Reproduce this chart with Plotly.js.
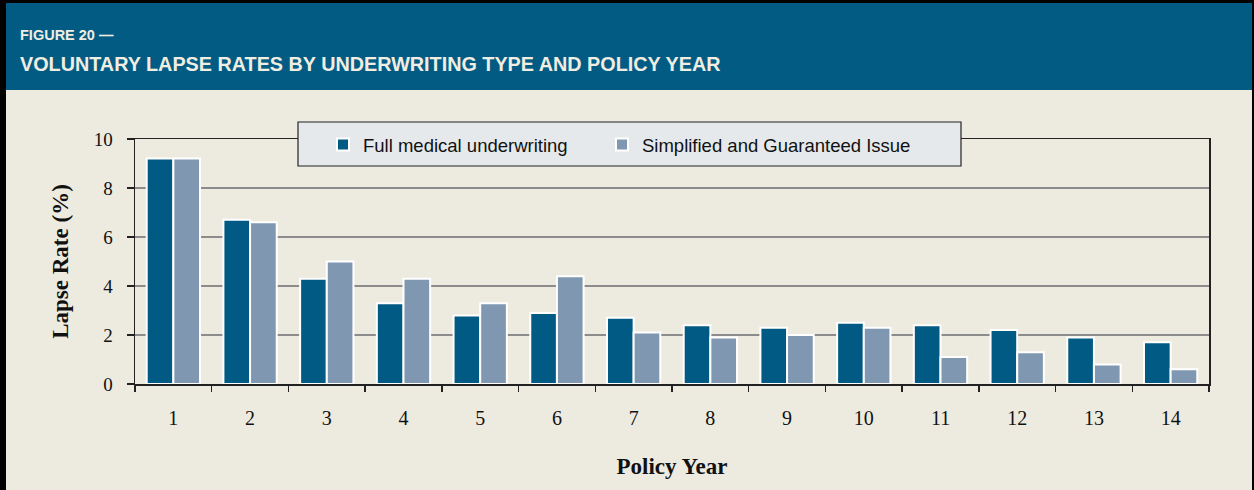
<!DOCTYPE html>
<html>
<head>
<meta charset="utf-8">
<script src="https://cdn.plot.ly/plotly-3.0.1.min.js"></script>
<style>
html,body{margin:0;padding:0;background:#000;}
#chart{width:1254px;height:490px;}
</style>
</head>
<body>
<div id="chart"></div>
<script>
// ---- data ----
const policyYears = ["1","2","3","4","5","6","7","8","9","10","11","12","13","14"];
const fullMedical = [9.2, 6.7, 4.3, 3.3, 2.8, 2.9, 2.7, 2.4, 2.3, 2.5, 2.4, 2.2, 1.9, 1.7];
const simplifiedGI = [9.2, 6.6, 5.0, 4.3, 3.3, 4.4, 2.1, 1.9, 2.0, 2.3, 1.1, 1.3, 0.8, 0.6];
const seriesNames = ["Full medical underwriting", "Simplified and Guaranteed Issue"];
const yTicks = [0, 2, 4, 6, 8, 10];
const figureLabel = "FIGURE 20 \u2014";
const chartTitle = "VOLUNTARY LAPSE RATES BY UNDERWRITING TYPE AND POLICY YEAR";

// ---- layout helpers (pixel -> paper) ----
const W = 1254, H = 490, ML = 135, MR = 45, MT = 139, MB = 106;
const PW = W - ML - MR, PH = H - MT - MB;
const px = x => (x - ML) / PW;
const py = y => (H - MB - y) / PH;

const sans = "Liberation Sans, Arial, sans-serif";
const serif = "Liberation Serif, Times New Roman, serif";

const traces = [
  {type: "bar", name: seriesNames[0], x: policyYears, y: fullMedical, legend: "legend",
   marker: {color: "#005a83", line: {color: "#ffffff", width: 2}}, hoverinfo: "y"},
  {type: "bar", name: seriesNames[1], x: policyYears, y: simplifiedGI, legend: "legend2",
   marker: {color: "#7f97b0", line: {color: "#ffffff", width: 2}}, hoverinfo: "y"}
];

const legendBase = {
  orientation: "h", xanchor: "left", yanchor: "top", y: py(126),
  bgcolor: "rgba(0,0,0,0)", borderwidth: 0,
  font: {family: sans, size: 18.5, color: "#111"}
};

const layout = {
  width: W, height: H,
  margin: {l: ML, r: MR, t: MT, b: MB},
  paper_bgcolor: "#000000",
  plot_bgcolor: "rgba(0,0,0,0)",
  barmode: "group",
  bargap: 0.305,
  bargroupgap: 0,
  showlegend: true,
  legend: Object.assign({}, legendBase, {x: px(323)}),
  legend2: Object.assign({}, legendBase, {x: px(602)}),
  xaxis: {
    type: "category",
    showline: true, linecolor: "#222", linewidth: 1.5, mirror: true,
    ticks: "outside", ticklen: 6, tickcolor: "#222", tickwidth: 1.5,
    tickson: "boundaries",
    ticklabelstandoff: 15,
    tickfont: {family: serif, size: 20, color: "#111"},
    showgrid: false,
    title: {text: "<b>Policy Year</b>", font: {family: serif, size: 23, color: "#111"}, standoff: 30},
    automargin: false
  },
  yaxis: {
    range: [0, 10], tickvals: yTicks, ticktext: yTicks.map(String),
    showline: true, linecolor: "#222", linewidth: 1.5, mirror: true,
    ticks: "outside", ticklen: 7, tickcolor: "#222", tickwidth: 1.5,
    ticklabelstandoff: 10,
    tickfont: {family: serif, size: 19, color: "#111"},
    showgrid: true, gridcolor: "#8c8c8c", gridwidth: 1.5,
    zeroline: false,
    title: {text: "<b>Lapse Rate (%)</b>", font: {family: serif, size: 23, color: "#111"}, standoff: 18},
    automargin: false
  },
  shapes: [
    {type: "rect", xref: "paper", yref: "paper", layer: "below",
     x0: px(6), x1: px(1252), y0: py(490), y1: py(3),
     fillcolor: "#edebe0", line: {width: 0}},
    {type: "rect", xref: "paper", yref: "paper", layer: "below",
     x0: px(6), x1: px(1252), y0: py(90), y1: py(3),
     fillcolor: "#025b83", line: {width: 0}},
    {type: "rect", xref: "paper", yref: "paper", layer: "above",
     x0: px(298), x1: px(961), y0: py(166), y1: py(122),
     fillcolor: "#e5e9ec", line: {color: "#222", width: 1.2}}
  ],
  annotations: [
    {xref: "paper", yref: "paper", x: px(18), y: py(35), xanchor: "left", yanchor: "middle",
     text: "<b>" + figureLabel + "</b>", showarrow: false,
     font: {family: sans, size: 14.5, color: "#f0ede2"}},
    {xref: "paper", yref: "paper", x: px(18), y: py(64), xanchor: "left", yanchor: "middle",
     text: "<b>" + chartTitle + "</b>", showarrow: false,
     font: {family: sans, size: 19.8, color: "#f0ede2"}}
  ]
};

Plotly.newPlot("chart", traces, layout, {displayModeBar: false, staticPlot: true});
</script>
</body>
</html>
